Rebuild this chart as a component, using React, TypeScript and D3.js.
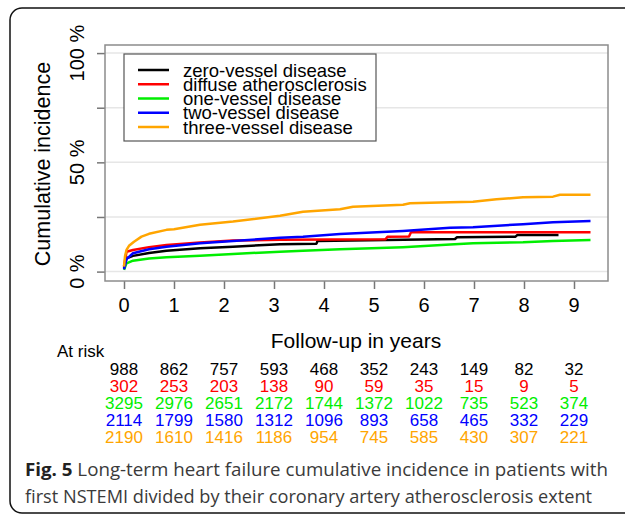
import React, { useEffect, useRef } from 'react';
import * as d3 from 'd3';

// cumulative incidence (%), [years, percent]
const zeroVessel: [number, number][] = [[0, 1.6], [0.05, 6.1], [0.18, 7.2], [0.5, 8.5], [0.85, 9.5], [1.52, 10.7], [2.18, 11.4], [3.12, 12.5], [3.85, 12.8], [3.87, 14.0], [5.25, 14.5], [6.62, 14.9], [6.66, 15.7], [7.83, 16.0], [7.87, 16.8], [8.69, 16.8]];
const diffuse: [number, number][] = [[0, 2.3], [0.05, 9.1], [0.18, 9.9], [0.5, 11.2], [0.85, 12.2], [1.52, 13.3], [2.18, 14.2], [3.12, 14.6], [5.23, 14.8], [5.27, 16.0], [5.7, 16.1], [5.74, 18.0], [9.33, 18.0]];
const oneVessel: [number, number][] = [[0, 0.8], [0.05, 3.8], [0.18, 5.0], [0.5, 6.0], [0.85, 6.6], [1.52, 7.3], [2.18, 8.1], [3.12, 9.1], [3.58, 9.5], [4.32, 10.2], [5.58, 11.2], [6.52, 12.4], [6.98, 13.0], [7.98, 13.4], [8.58, 14.0], [9.33, 14.5]];
const twoVessel: [number, number][] = [[0, 1.1], [0.05, 5.7], [0.18, 8.4], [0.5, 10.2], [0.85, 11.4], [1.52, 13.0], [2.18, 14.0], [3.12, 15.5], [3.58, 16.0], [4.32, 17.2], [5.58, 18.6], [6.52, 20.1], [6.98, 20.3], [7.98, 21.7], [8.58, 22.6], [9.33, 23.2]];
const threeVessel: [number, number][] = [[0, 2.3], [0.02, 7], [0.05, 9.9], [0.1, 11.8], [0.2, 13.7], [0.35, 16.0], [0.5, 17.3], [0.85, 19.1], [1.0, 19.4], [1.52, 21.4], [2.18, 22.9], [3.12, 25.6], [3.58, 27.4], [4.32, 28.5], [4.58, 29.7], [5.58, 30.6], [5.72, 31.3], [6.52, 31.7], [6.98, 32.0], [7.45, 33.1], [7.98, 34.0], [8.58, 34.3], [8.72, 35.2], [9.33, 35.2]];

const groups = ['zero-vessel disease', 'diffuse atherosclerosis', 'one-vessel disease', 'two-vessel disease', 'three-vessel disease'];
const colors = ['#000000', '#ff0000', '#00ee00', '#0000ff', '#ffa500'];
const series = [zeroVessel, diffuse, oneVessel, twoVessel, threeVessel];

const years = [0, 1, 2, 3, 4, 5, 6, 7, 8, 9];
const yTicks = [0, 25, 50, 75, 100];
const yLabels = [0, 50, 100];

const riskZero = [988, 862, 757, 593, 468, 352, 243, 149, 82, 32];
const riskDiffuse = [302, 253, 203, 138, 90, 59, 35, 15, 9, 5];
const riskOne = [3295, 2976, 2651, 2172, 1744, 1372, 1022, 735, 523, 374];
const riskTwo = [2114, 1799, 1580, 1312, 1096, 893, 658, 465, 332, 229];
const riskThree = [2190, 1610, 1416, 1186, 954, 745, 585, 430, 307, 221];
const atRisk = [riskZero, riskDiffuse, riskOne, riskTwo, riskThree];

const captionBold = 'Fig. 5';
const captionLine1 = ' Long-term heart failure cumulative incidence in patients with';
const captionLine2 = 'first NSTEMI divided by their coronary artery atherosclerosis extent';

const width = 625;
const height = 517;
const box = { left: 105, right: 608, top: 45, bottom: 281 };

const x = d3.scaleLinear().domain([-0.38, 9.68]).range([box.left, box.right]);
const y = d3.scaleLinear().domain([-4.3, 103.7]).range([box.bottom, box.top]);

const font = '"Liberation Sans", Arial, sans-serif';
const capFont = '"Open Sans", "Noto Sans", sans-serif';

export default function App() {
  const ref = useRef<SVGSVGElement>(null);

  useEffect(() => {
    const svg = d3.select(ref.current);
    svg.selectAll('*').remove();

    // outer frame (runs off the right edge)
    svg.append('rect')
      .attr('x', 10).attr('y', 8).attr('width', 640).attr('height', 505)
      .attr('rx', 12).attr('fill', 'none').attr('stroke', '#111').attr('stroke-width', 1.5);

    // grid
    svg.append('g').selectAll('line').data(yTicks).join('line')
      .attr('x1', box.left).attr('x2', box.right)
      .attr('y1', d => y(d)).attr('y2', d => y(d))
      .attr('stroke', '#e6e6e6').attr('stroke-width', 1.5);

    // y axis
    const ya = svg.append('g').attr('transform', `translate(${box.left},0)`)
      .call(d3.axisLeft(y).tickValues(yTicks).tickSize(8).tickFormat(() => ''));
    ya.select('.domain').remove();
    ya.selectAll('line').attr('stroke', '#777').attr('stroke-width', 1.5);

    svg.append('g').selectAll('text').data(yLabels).join('text')
      .attr('transform', d => `translate(77,${y(d)}) rotate(-90)`)
      .attr('text-anchor', 'middle').attr('dominant-baseline', 'central')
      .attr('font-family', font).attr('font-size', 20)
      .text(d => `${d} %`);

    // x axis
    const xa = svg.append('g').attr('transform', `translate(0,${box.bottom})`)
      .call(d3.axisBottom(x).tickValues(years).tickSize(8).tickFormat(() => ''));
    xa.select('.domain').remove();
    xa.selectAll('line').attr('stroke', '#777').attr('stroke-width', 1.5);

    svg.append('g').selectAll('text').data(years).join('text')
      .attr('x', d => x(d)).attr('y', 305)
      .attr('text-anchor', 'middle').attr('dominant-baseline', 'central')
      .attr('font-family', font).attr('font-size', 20)
      .text(d => d);

    // curves
    const line = d3.line<[number, number]>()
      .x(d => x(d[0]))
      .y(d => y(d[1]));

    svg.append('g').selectAll('path').data(series).join('path')
      .attr('d', d => line(d))
      .attr('fill', 'none')
      .attr('stroke', (_, i) => colors[i])
      .attr('stroke-width', 2.5)
      .attr('stroke-linejoin', 'round');

    // plot box
    svg.append('rect')
      .attr('x', box.left).attr('y', box.top)
      .attr('width', box.right - box.left).attr('height', box.bottom - box.top)
      .attr('fill', 'none').attr('stroke', '#8c8c8c').attr('stroke-width', 1.5);

    // legend
    const lg = svg.append('g');
    lg.append('rect')
      .attr('x', 124).attr('y', 54).attr('width', 252).attr('height', 87)
      .attr('fill', 'white').attr('stroke', '#555').attr('stroke-width', 1.2);
    const rows = lg.selectAll('g').data(groups).join('g')
      .attr('transform', (_, i) => `translate(0,${70 + i * 14.25})`);
    rows.append('line')
      .attr('x1', 138).attr('x2', 169)
      .attr('stroke', (_, i) => colors[i]).attr('stroke-width', 2.5);
    rows.append('text')
      .attr('x', 183).attr('dominant-baseline', 'central')
      .attr('font-family', font).attr('font-size', 18.5)
      .text(d => d);

    // axis titles
    svg.append('text')
      .attr('transform', 'translate(43,164) rotate(-90)')
      .attr('text-anchor', 'middle').attr('dominant-baseline', 'central')
      .attr('font-family', font).attr('font-size', 21.5)
      .text('Cumulative incidence');
    svg.append('text')
      .attr('x', 356).attr('y', 340)
      .attr('text-anchor', 'middle').attr('dominant-baseline', 'central')
      .attr('font-family', font).attr('font-size', 21)
      .text('Follow-up in years');

    // at risk table
    svg.append('text')
      .attr('x', 57).attr('y', 351).attr('dominant-baseline', 'central')
      .attr('font-family', font).attr('font-size', 17)
      .text('At risk');
    svg.append('g').selectAll('g').data(atRisk).join('g')
      .attr('fill', (_, i) => colors[i])
      .attr('transform', (_, i) => `translate(0,${369 + i * 17.2})`)
      .selectAll('text').data(d => d).join('text')
      .attr('x', (_, j) => x(years[j]))
      .attr('text-anchor', 'middle').attr('dominant-baseline', 'central')
      .attr('font-family', font).attr('font-size', 17)
      .text(d => d);

    // caption
    const cap = svg.append('text')
      .attr('x', 25).attr('y', 468).attr('dominant-baseline', 'central')
      .attr('font-family', capFont).attr('font-size', 18.5)
      .attr('fill', '#3a3a3a')
      .attr('textLength', 583).attr('lengthAdjust', 'spacingAndGlyphs');
    cap.append('tspan').attr('font-weight', 'bold').attr('fill', '#222').text(captionBold);
    cap.append('tspan').text(captionLine1);
    svg.append('text')
      .attr('x', 25).attr('y', 495).attr('dominant-baseline', 'central')
      .attr('font-family', capFont).attr('font-size', 18.5)
      .attr('fill', '#3a3a3a')
      .attr('textLength', 567).attr('lengthAdjust', 'spacingAndGlyphs')
      .text(captionLine2);
  }, []);

  return (
    <svg ref={ref} width={width} height={height}
      style={{ position: 'absolute', left: 0, top: 0, background: 'white' }} />
  );
}
